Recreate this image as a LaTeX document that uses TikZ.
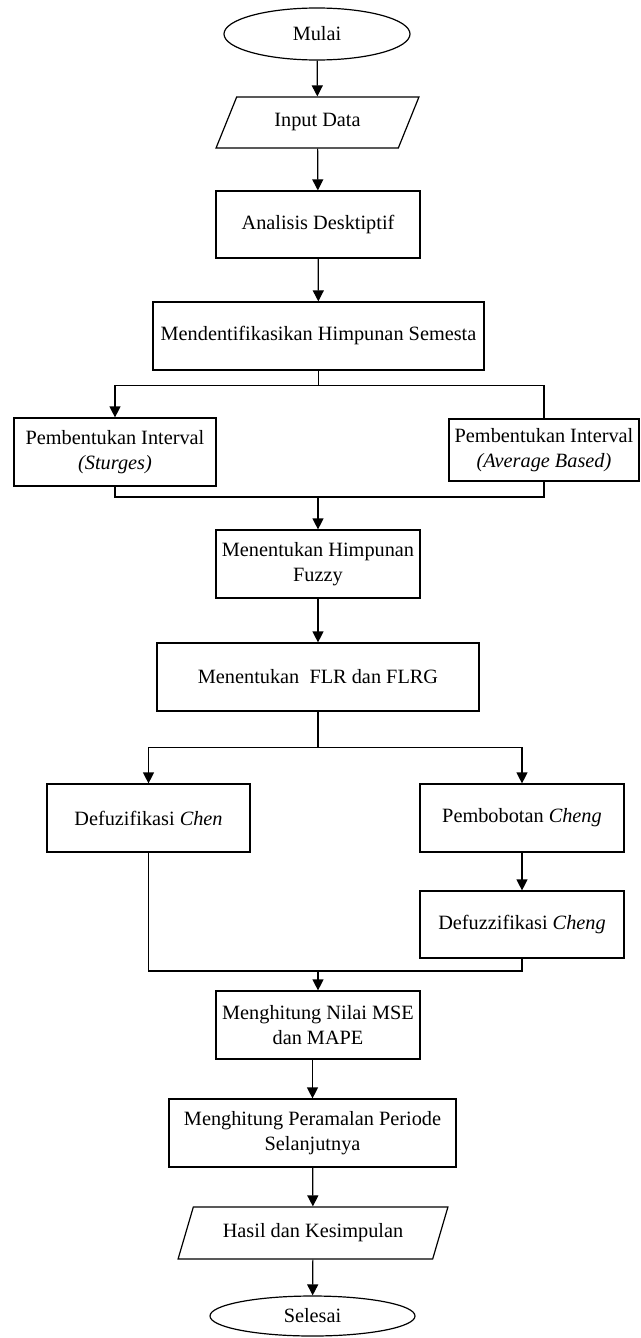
\documentclass[tikz,border=0pt]{standalone}
\usepackage{fontspec}
\setmainfont{Liberation Serif}
\usetikzlibrary{shapes, arrows.meta, positioning, calc}
\tikzset{
  flowfont/.style={font=\fontsize{20.3}{25}\selectfont},
  procbox/.style={draw, line width=1.2pt, rectangle, inner sep=0pt, align=center, flowfont},
  iobox/.style={draw, line width=1.2pt, trapezium, trapezium left angle=58, trapezium right angle=122,
    trapezium stretches=true, inner sep=0pt, align=center, flowfont},
  termbox/.style={draw, line width=1.2pt, ellipse, inner sep=0pt, flowfont},
  flowline/.style={line width=1.2pt},
  flowarrow/.style={flowline, -{Triangle[length=11pt, width=11pt]}},
}

\begin{document}
\begin{tikzpicture}[x=1pt, y=-1pt]
  \useasboundingbox (0,0) rectangle (640,1338);

  \node[termbox, minimum width=186pt, minimum height=52pt] (mulai) at (317,34) {Mulai};
  \node[iobox, minimum width=203pt, minimum height=51pt] (input) at (317.5,122.5) {Input Data};
  \node[procbox, minimum width=204pt, minimum height=67pt] (analisis) at (318,224.5) {Analisis Desktiptif};
  \node[procbox, minimum width=331pt, minimum height=68pt] (semesta) at (318.5,336) {Mendentifikasikan Himpunan Semesta};
  \node[procbox, minimum width=202pt, minimum height=68pt] (sturges) at (115,452) {Pembentukan Interval\\\textit{(Sturges)}};
  \node[procbox, minimum width=190pt, minimum height=62pt] (average) at (544,450) {Pembentukan Interval\\\textit{(Average Based)}};
  \node[procbox, minimum width=204pt, minimum height=68pt] (fuzzy) at (318,564) {Menentukan Himpunan\\Fuzzy};
  \node[procbox, minimum width=322pt, minimum height=68pt] (flr) at (318,677) {Menentukan\ \ FLR dan FLRG};
  \node[procbox, minimum width=203pt, minimum height=68pt] (chen) at (148.5,818) {Defuzifikasi \textit{Chen}};
  \node[procbox, minimum width=204pt, minimum height=68pt] (pembobotan) at (522,818) {Pembobotan \textit{Cheng}};
  \node[procbox, minimum width=204pt, minimum height=67pt] (defcheng) at (522,924.5) {Defuzzifikasi \textit{Cheng}};
  \node[procbox, minimum width=204pt, minimum height=68pt] (mse) at (318,1025) {Menghitung Nilai MSE\\dan MAPE};
  \node[procbox, minimum width=287pt, minimum height=68pt] (peramalan) at (312.5,1133) {Menghitung Peramalan Periode\\Selanjutnya};
  \node[iobox, minimum width=270pt, minimum height=52pt] (hasil) at (313,1233) {Hasil dan Kesimpulan};
  \node[termbox, minimum width=205pt, minimum height=40pt] (selesai) at (312.5,1316) {Selesai};

  \coordinate (gabung1) at (318,497);
  \coordinate (gabung2) at (318,971);

  \draw[flowarrow] (mulai) -- (input);
  \draw[flowarrow] (input) -- (analisis);
  \draw[flowarrow] (analisis) -- (semesta);
  \draw[flowline] (semesta.south) -- ++(0,15) coordinate (cabang1);
  \draw[flowarrow] (cabang1) -| (sturges.north);
  \draw[flowline] (cabang1) -| (average.north);
  \draw[flowline] (sturges.south) |- (gabung1) -| (average.south);
  \draw[flowarrow] (gabung1) -- (fuzzy.north);
  \draw[flowarrow] (fuzzy) -- (flr);
  \draw[flowline] (flr.south) -- ++(0,36) coordinate (cabang2);
  \draw[flowarrow] (cabang2) -| (chen.north);
  \draw[flowarrow] (cabang2) -| (pembobotan.north);
  \draw[flowarrow] (pembobotan) -- (defcheng);
  \draw[flowline] (chen.south) |- (gabung2) -| (defcheng.south);
  \draw[flowarrow] (gabung2) -- (mse.north);
  \draw[flowarrow] (peramalan.north |- mse.south) -- (peramalan.north);
  \draw[flowarrow] (peramalan) -- (hasil);
  \draw[flowarrow] (hasil) -- (selesai);
\end{tikzpicture}
\end{document}
